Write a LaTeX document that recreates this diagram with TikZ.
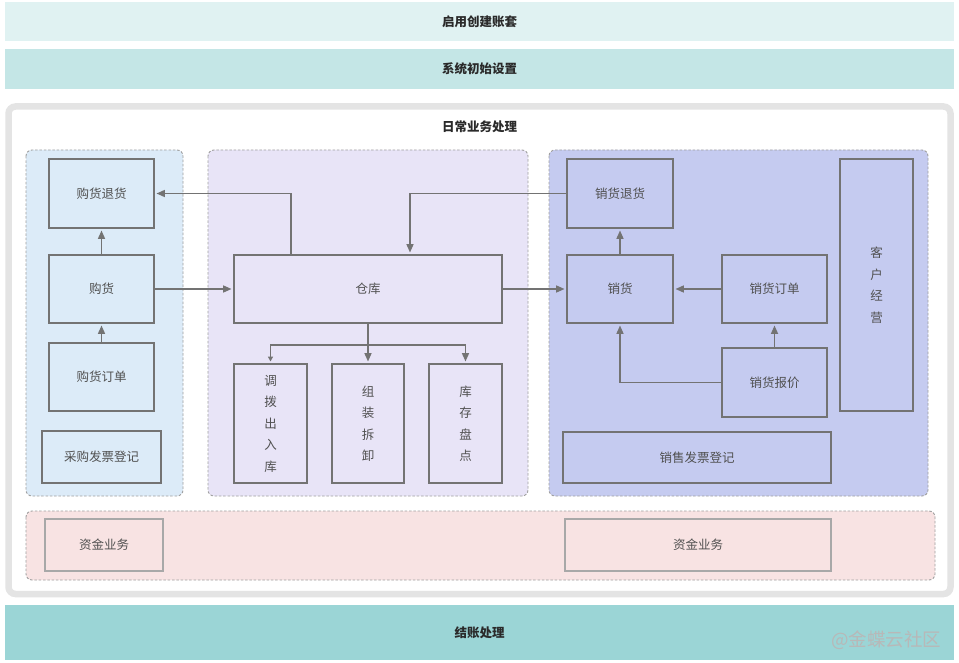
\documentclass[tikz,border=0pt]{standalone}
\usepackage{fontspec}
\setmainfont{Noto Sans CJK SC}
\usetikzlibrary{arrows.meta}
\definecolor{barA}{HTML}{E0F2F2}
\definecolor{barB}{HTML}{C4E6E6}
\definecolor{barC}{HTML}{9BD5D6}
\definecolor{panL}{HTML}{DCEBF8}
\definecolor{panM}{HTML}{E8E4F7}
\definecolor{panR}{HTML}{C5CBF0}
\definecolor{panP}{HTML}{F8E3E3}
\definecolor{frameg}{HTML}{E4E4E4}
\definecolor{edge}{HTML}{737373}
\definecolor{edgeL}{HTML}{A8A8A8}
\definecolor{dashg}{HTML}{A0A0A0}
\definecolor{txt}{HTML}{505050}
\definecolor{txtd}{HTML}{2A2A2A}
\definecolor{wm}{HTML}{B8B8B8}
\begin{document}
\begin{tikzpicture}[x=1pt,y=-1pt,
  box/.style={draw=edge,line width=1.9pt,inner sep=0pt,text=txt,font=\fontsize{12.5}{21.5}\selectfont,align=center},
  lbox/.style={box,draw=edgeL},
  panel/.style={draw=dashg,line width=0.9pt,dash pattern=on 2.5pt off 1.8pt,rounded corners=6pt},
  bar/.style={inner sep=0pt,text=txtd,font=\fontsize{12.5}{15}\selectfont\bfseries},
  arr/.style={draw=edge,line width=1.6pt,shorten >=1.5pt,-{Triangle[length=8.5pt,width=7pt]}},
  sarr/.style={draw=edge,line width=1.6pt,shorten >=1.5pt,-{Triangle[length=5pt,width=5pt]}}]
\useasboundingbox (0,0) rectangle (959,663);
% top bars
\node[bar,fill=barA,minimum width=949pt,minimum height=39pt] (b1) at (479.5,21.5) {启用创建账套};
\node[bar,fill=barB,minimum width=949pt,minimum height=40pt] (b2) at (479.5,69) {系统初始设置};
% outer frame
\draw[frameg,line width=6.5pt,fill=white,rounded corners=7pt] (8.5,106.5) rectangle (950.5,594);
\node[bar] (title) at (479.5,127) {日常业务处理};
% panels
\draw[panel,fill=panL] (26,150) rectangle (183,496);
\draw[panel,fill=panM] (208,150) rectangle (528,496);
\draw[panel,fill=panR] (549,150) rectangle (928,496);
\draw[panel,fill=panP] (26,511) rectangle (935,580);
% left boxes
\node[box,minimum width=105pt,minimum height=69pt] (gthh) at (101.5,193.5) {购货退货};
\node[box,minimum width=105pt,minimum height=68pt] (gh) at (101.5,289) {购货};
\node[box,minimum width=105pt,minimum height=68pt] (gddd) at (101.5,377) {购货订单};
\node[box,minimum width=119pt,minimum height=52pt] (cgfp) at (101.5,457) {采购发票登记};
% middle boxes
\node[box,minimum width=268pt,minimum height=68pt] (ck) at (368,289) {仓库};
\node[box,minimum width=73pt,minimum height=119pt] (db) at (270.5,423.5) {调\\拨\\出\\入\\库};
\node[box,minimum width=72pt,minimum height=119pt] (zz) at (368,423.5) {组\\装\\拆\\卸};
\node[box,minimum width=73pt,minimum height=119pt] (kc) at (465.5,423.5) {库\\存\\盘\\点};
% right boxes
\node[box,minimum width=106pt,minimum height=69pt] (xhth) at (620,193.5) {销货退货};
\node[box,minimum width=106pt,minimum height=68pt] (xh) at (620,289) {销货};
\node[box,minimum width=105pt,minimum height=68pt] (xhdd) at (774.5,289) {销货订单};
\node[box,minimum width=105pt,minimum height=69pt] (xhbj) at (774.5,382.5) {销货报价};
\node[box,minimum width=73pt,minimum height=252pt] (khjy) at (876.5,285) {客\\户\\经\\营};
\node[box,minimum width=268pt,minimum height=51pt] (xsfp) at (697,457.5) {销售发票登记};
% bottom boxes
\node[lbox,minimum width=118pt,minimum height=52pt] (zj1) at (104,545) {资金业务};
\node[lbox,minimum width=266pt,minimum height=52pt] (zj2) at (698,545) {资金业务};
% bottom bar
\node[bar,fill=barC,minimum width=949pt,minimum height=55pt] (b3) at (479.5,632.5) {结账处理};
\node[inner sep=0pt,text=wm,font=\fontsize{18.5}{20}\selectfont] (wmk) at (886,640) {@金蝶云社区};
% helper coordinates
\coordinate (xa) at (291,0);
\coordinate (xb) at (410,0);
% connectors
\draw[arr] (gh) -- (gthh);
\draw[arr] (gddd) -- (gh);
\draw[arr] (gh) -- (ck);
\draw[arr] (xa |- ck.north) |- (gthh.east);
\draw[arr] (xhth.west) -| (xb |- ck.north);
\draw[arr] (ck) -- (xh);
\draw[arr] (ck.south) -- (zz.north);
\draw[sarr] (ck.south) -- ++(0,21) -| (db.north);
\draw[arr] (ck.south) -- ++(0,21) -| (kc.north);
\draw[arr] (xh) -- (xhth);
\draw[arr] (xhdd) -- (xh);
\draw[arr] (xhbj) -- (xhdd);
\draw[arr] (xhbj.west) -| (xh.south);
\end{tikzpicture}
\end{document}
